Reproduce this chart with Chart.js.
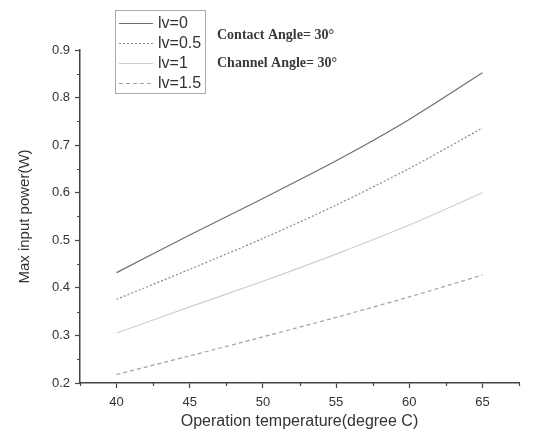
<!DOCTYPE html>
<html>
<head>
<meta charset="utf-8">
<script src="https://cdn.jsdelivr.net/npm/chart.js@4"></script>
<style>
html,body{margin:0;padding:0;background:#fff;}
#wrap{width:536px;height:436px;}
</style>
</head>
<body>
<div id="wrap"><canvas id="c" width="536" height="436"></canvas></div>
<script>
const temps = [40, 45, 50, 55, 60, 65];
const lv0 = [0.432, 0.511, 0.588, 0.667, 0.754, 0.852];
const lv05 = [0.376, 0.439, 0.504, 0.574, 0.651, 0.736];
const lv1 = [0.305, 0.360, 0.414, 0.471, 0.532, 0.600];
const lv15 = [0.218, 0.257, 0.297, 0.338, 0.381, 0.427];
const seriesNames = ['lv=0', 'lv=0.5', 'lv=1', 'lv=1.5'];
const xTicks = [40, 45, 50, 55, 60, 65];
const yTicks = [0.2, 0.3, 0.4, 0.5, 0.6, 0.7, 0.8, 0.9];
const notes = ['Contact Angle= 30°', 'Channel Angle= 30°'];

const colors = ['#6e6e6e', '#8a8a8a', '#cfcfcf', '#a2a2a2'];
const dashes = [[], [2, 2], [], [4, 3]];
const allSeries = [lv0, lv05, lv1, lv15];

const datasets = allSeries.map((s, i) => ({
  label: seriesNames[i],
  data: temps.map((t, j) => ({x: t, y: s[j]})),
  borderColor: colors[i],
  borderWidth: 1.2,
  borderDash: dashes[i],
  pointRadius: 0,
  tension: 0.3,
  fill: false
}));

const SANS = '"Liberation Sans", Arial, sans-serif';

const extras = {
  id: 'extras',
  afterDraw(chart) {
    const ctx = chart.ctx;
    const xs = chart.scales.x, ys = chart.scales.y;
    const area = chart.chartArea;
    ctx.save();
    // minor ticks
    ctx.strokeStyle = '#444';
    ctx.lineWidth = 1.2;
    ctx.beginPath();
    for (let v = xs.min; v <= xs.max + 1e-9; v += 2.5) {
      if (xTicks.includes(Math.round(v * 10) / 10)) continue;
      const px = Math.round(xs.getPixelForValue(v)) + 0.5;
      ctx.moveTo(px, area.bottom);
      ctx.lineTo(px, area.bottom + 3);
    }
    for (let i = 0; i < yTicks.length - 1; i++) {
      const v = (yTicks[i] + yTicks[i + 1]) / 2;
      const py = Math.round(ys.getPixelForValue(v)) + 0.5;
      ctx.moveTo(area.left, py);
      ctx.lineTo(area.left - 3, py);
    }
    ctx.stroke();

    // legend box
    const bx = 115, by = 10, bw = 90, bh = 83;
    ctx.strokeStyle = '#aaa';
    ctx.lineWidth = 1;
    ctx.strokeRect(bx + 0.5, by + 0.5, bw, bh);
    ctx.font = '16px ' + SANS;
    ctx.textBaseline = 'middle';
    ctx.textAlign = 'left';
    chart.data.datasets.forEach((ds, i) => {
      const y = 23 + i * 20;
      ctx.strokeStyle = ds.borderColor;
      ctx.lineWidth = 1.2;
      ctx.setLineDash(ds.borderDash);
      ctx.beginPath();
      ctx.moveTo(119, y + 0.5);
      ctx.lineTo(153, y + 0.5);
      ctx.stroke();
      ctx.setLineDash([]);
      ctx.fillStyle = '#333';
      ctx.fillText(ds.label, 158, y + 1);
    });

    // annotations
    ctx.font = 'bold 14px "Liberation Serif", "Times New Roman", serif';
    ctx.fillStyle = '#3a3a3a';
    notes.forEach((t, i) => ctx.fillText(t, 217, 35 + i * 28));
    ctx.restore();
  }
};

new Chart(document.getElementById('c'), {
  type: 'line',
  data: {datasets},
  options: {
    responsive: false,
    animation: false,
    layout: {padding: {top: 50, right: 17, left: 0, bottom: 0}},
    plugins: {legend: {display: false}, tooltip: {enabled: false}},
    scales: {
      x: {
        type: 'linear',
        min: 37.5,
        max: 67.5,
        afterBuildTicks(scale) { scale.ticks = xTicks.map(v => ({value: v})); },
        afterFit(scale) { scale.height = 53; },
        grid: {drawOnChartArea: false, tickLength: 5, tickColor: '#444', tickWidth: 1.2},
        border: {color: '#444', width: 1.5},
        ticks: {font: {family: SANS, size: 13}, color: '#333', padding: 7, maxRotation: 0},
        title: {display: true, text: 'Operation temperature(degree C)', font: {family: SANS, size: 16}, color: '#333', padding: {top: 0, bottom: 5}}
      },
      y: {
        type: 'linear',
        min: 0.2,
        max: 0.9,
        afterBuildTicks(scale) { scale.ticks = yTicks.map(v => ({value: v})); },
        afterFit(scale) { scale.width = 80; },
        grid: {drawOnChartArea: false, tickLength: 5, tickColor: '#444', tickWidth: 1.2},
        border: {color: '#444', width: 1.5},
        ticks: {font: {family: SANS, size: 13}, color: '#333', padding: 5, callback: v => v.toFixed(1)},
        title: {display: true, text: 'Max input power(W)', font: {family: SANS, size: 15}, color: '#333', padding: {top: 16, bottom: 0}}
      }
    }
  },
  plugins: [extras]
});
</script>
</body>
</html>
